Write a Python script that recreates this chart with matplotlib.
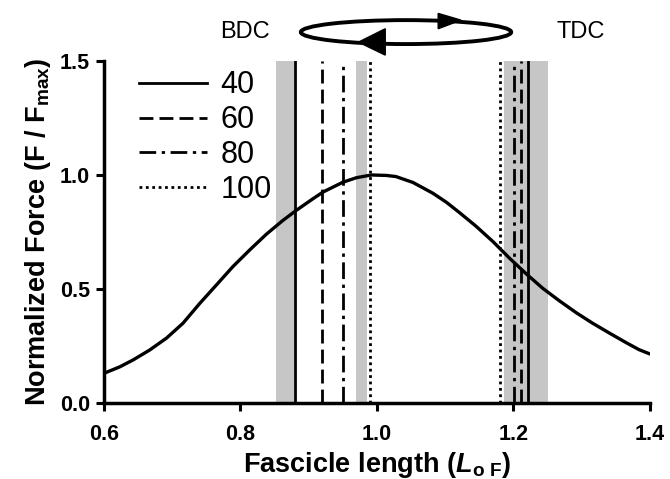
import numpy as np
import matplotlib
matplotlib.use('Agg')
import matplotlib.pyplot as plt
from matplotlib.patches import Ellipse, Polygon

plt.rcParams['font.family'] = ['Liberation Sans', 'DejaVu Sans']
plt.rcParams['mathtext.fontset'] = 'custom'
plt.rcParams['mathtext.rm'] = 'Liberation Sans'
plt.rcParams['mathtext.bf'] = 'Liberation Sans:bold'
plt.rcParams['mathtext.it'] = 'Liberation Sans:italic'
plt.rcParams['mathtext.bfit'] = 'Liberation Sans:bold:italic'

# force-length curve
curve_x = [0.600, 0.623, 0.643, 0.667, 0.692, 0.716, 0.740, 0.765, 0.789, 0.814,
           0.838, 0.862, 0.882, 0.906, 0.921, 0.950, 0.970, 0.992, 1.014, 1.028,
           1.053, 1.082, 1.102, 1.121, 1.145, 1.170, 1.194, 1.219, 1.243, 1.267,
           1.292, 1.316, 1.341, 1.365, 1.384, 1.400]
curve_y = [0.130, 0.158, 0.189, 0.232, 0.285, 0.350, 0.435, 0.518, 0.598, 0.672,
           0.740, 0.800, 0.845, 0.895, 0.925, 0.968, 0.988, 1.000, 0.998, 0.993,
           0.967, 0.920, 0.880, 0.835, 0.776, 0.708, 0.636, 0.566, 0.503, 0.449,
           0.396, 0.350, 0.306, 0.265, 0.234, 0.215]

# cadence (rpm) and fascicle lengths at BDC / TDC
cadence = ['40', '60', '80', '100']
bdc_len = [0.88, 0.92, 0.95, 0.99]
tdc_len = [1.222, 1.211, 1.201, 1.181]
styles = ['-', (0, (5, 2.2)), (0, (6, 2, 1.2, 2)), (0, (1, 1.3))]

# grey bands (ranges)
bands = [(0.852, 0.878), (0.970, 0.986), (1.186, 1.250)]

fig = plt.figure(figsize=(6.70, 4.79), dpi=100)
ax = fig.add_axes([0.155, 0.1587, 0.815, 0.714])

for lo, hi in bands:
    ax.axvspan(lo, hi, color='#c6c6c6', lw=0, zorder=1)

handles = []
for lab, b, t, ls in zip(cadence, bdc_len, tdc_len, styles):
    h, = ax.plot([b, b], [0, 1.5], color='black', lw=2.0, ls=ls, label=lab, zorder=2)
    ax.plot([t, t], [0, 1.5], color='black', lw=2.0, ls=ls, zorder=2)
    handles.append(h)

ax.plot(curve_x, curve_y, color='black', lw=2.4, zorder=3,
        solid_joinstyle='round', solid_capstyle='round')

ax.set_xlim(0.6, 1.4)
ax.set_ylim(0, 1.5)
ax.set_xticks([0.6, 0.8, 1.0, 1.2, 1.4])
ax.set_xticklabels(['0.6', '0.8', '1.0', '1.2', '1.4'])
ax.set_yticks([0.0, 0.5, 1.0, 1.5])
ax.set_yticklabels(['0.0', '0.5', '1.0', '1.5'])
for s in ['top', 'right']:
    ax.spines[s].set_visible(False)
for s in ['left', 'bottom']:
    ax.spines[s].set_linewidth(2.5)
ax.tick_params(width=2.2, length=6, labelsize=15.5, direction='out', pad=4)
ax.tick_params(axis='x', pad=9)
for lbl in ax.get_xticklabels() + ax.get_yticklabels():
    lbl.set_fontweight('bold')

ax.set_xlabel(r'Fascicle length ($\mathbfit{L}_{\mathbf{o\ F}}$)', fontsize=19.5,
              fontweight='bold', labelpad=4)
ax.set_ylabel(r'Normalized Force (F / F$_{\mathbf{max}}$)', fontsize=19.5,
              fontweight='bold', labelpad=5)

leg = ax.legend(handles=handles, loc='upper left', bbox_to_anchor=(0.026, 1.035),
                frameon=False, fontsize=22, handlelength=2.2, handletextpad=0.45,
                labelspacing=0.16, borderaxespad=0.3)

# crank cycle sketch above the plot
fig.text(0.366, 0.934, 'BDC', fontsize=17, ha='center', va='center')
fig.text(0.866, 0.934, 'TDC', fontsize=17, ha='center', va='center')
ell = Ellipse((0.606, 0.933), 0.314, 0.050, transform=fig.transFigure,
              fill=False, lw=2.8, ec='black')
fig.patches.append(ell)
top_arrow = Polygon([[0.654, 0.972], [0.654, 0.940], [0.688, 0.958]],
                    closed=True, transform=fig.transFigure, color='black')
bot_arrow = Polygon([[0.575, 0.940], [0.575, 0.885], [0.535, 0.912]],
                    closed=True, transform=fig.transFigure, color='black')
fig.patches.append(top_arrow)
fig.patches.append(bot_arrow)

fig.savefig('out.png', dpi=100)
